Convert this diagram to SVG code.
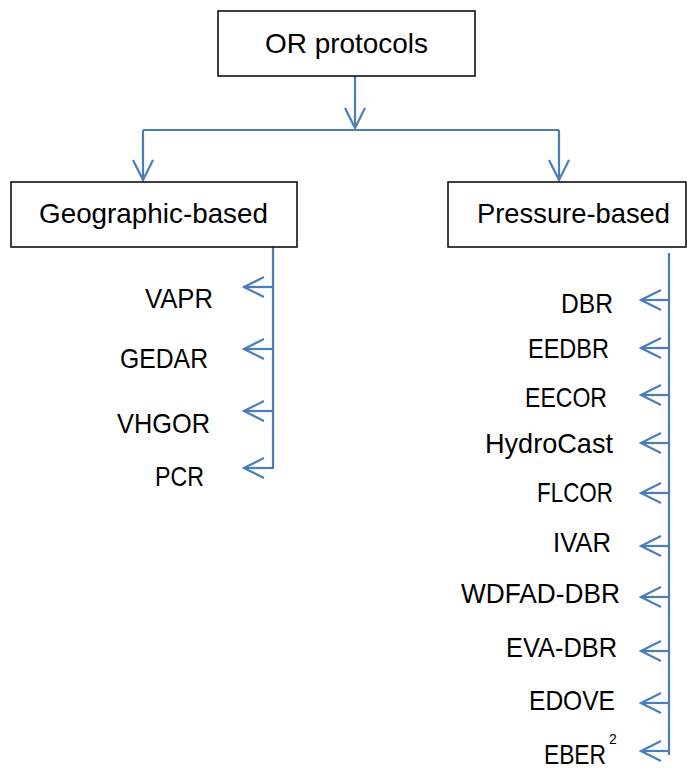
<svg xmlns="http://www.w3.org/2000/svg" width="687" height="770" viewBox="0 0 687 770">
  <style>
    .box { fill: #ffffff; stroke: #000000; stroke-width: 1.5; }
    .label { font-family: "Liberation Sans", Arial, sans-serif; font-size: 28px; fill: #000000; }
    .sup { font-family: "Liberation Sans", Arial, sans-serif; font-size: 14px; fill: #000000; }
    .link { fill: none; stroke: #4A7EBB; stroke-width: 2.2; }
  </style>
  <defs>
    <marker id="open-arrow" viewBox="-22 -12 24 24" markerWidth="24" markerHeight="24" refX="0" refY="0" orient="auto" markerUnits="userSpaceOnUse">
      <path d="M-20,-10 L0,0 L-20,10" fill="none" stroke="#4A7EBB" stroke-width="2.2"/>
    </marker>
  </defs>
  <rect width="687" height="770" fill="#ffffff"/>

  <!-- connectors -->
  <g id="connectors" class="link">
    <path d="M355,76 V128" marker-end="url(#open-arrow)"/>
    <path d="M143,130 H559"/>
    <path d="M143,130 V180" marker-end="url(#open-arrow)"/>
    <path d="M559,130 V180" marker-end="url(#open-arrow)"/>
    <!-- geographic branch -->
    <path d="M273,247 V469"/>
    <path d="M273,287 H244" marker-end="url(#open-arrow)"/>
    <path d="M273,349 H244" marker-end="url(#open-arrow)"/>
    <path d="M273,411 H244" marker-end="url(#open-arrow)"/>
    <path d="M273,468 H244" marker-end="url(#open-arrow)"/>
    <!-- pressure branch -->
    <path d="M669,253 V755"/>
    <path d="M669,300 H641" marker-end="url(#open-arrow)"/>
    <path d="M669,348 H641" marker-end="url(#open-arrow)"/>
    <path d="M669,395 H641" marker-end="url(#open-arrow)"/>
    <path d="M669,443 H641" marker-end="url(#open-arrow)"/>
    <path d="M669,493 H641" marker-end="url(#open-arrow)"/>
    <path d="M669,546 H641" marker-end="url(#open-arrow)"/>
    <path d="M669,597 H641" marker-end="url(#open-arrow)"/>
    <path d="M669,651 H641" marker-end="url(#open-arrow)"/>
    <path d="M669,703 H641" marker-end="url(#open-arrow)"/>
    <path d="M669,751 H641" marker-end="url(#open-arrow)"/>
  </g>

  <g id="or-protocols">
    <rect class="box" x="218" y="11" width="257" height="65"/>
    <text class="label" x="265" y="53" textLength="163" lengthAdjust="spacingAndGlyphs">OR protocols</text>
  </g>
  <g id="geographic-based">
    <rect class="box" x="11" y="182" width="286" height="65"/>
    <text class="label" x="39" y="223" textLength="229" lengthAdjust="spacingAndGlyphs">Geographic-based</text>
  </g>
  <g id="pressure-based">
    <rect class="box" x="448" y="182" width="238" height="65"/>
    <text class="label" x="477" y="223" textLength="193" lengthAdjust="spacingAndGlyphs">Pressure-based</text>
  </g>

  <!-- geographic-based protocols -->
  <g id="vapr"><text class="label" x="145" y="308" textLength="68" lengthAdjust="spacingAndGlyphs">VAPR</text></g>
  <g id="gedar"><text class="label" x="120" y="368" textLength="88" lengthAdjust="spacingAndGlyphs">GEDAR</text></g>
  <g id="vhgor"><text class="label" x="117" y="433" textLength="93" lengthAdjust="spacingAndGlyphs">VHGOR</text></g>
  <g id="pcr"><text class="label" x="155" y="486" textLength="49" lengthAdjust="spacingAndGlyphs">PCR</text></g>

  <!-- pressure-based protocols -->
  <g id="dbr"><text class="label" x="561" y="313" textLength="52" lengthAdjust="spacingAndGlyphs">DBR</text></g>
  <g id="eedbr"><text class="label" x="528" y="358" textLength="81" lengthAdjust="spacingAndGlyphs">EEDBR</text></g>
  <g id="eecor"><text class="label" x="525" y="407" textLength="82" lengthAdjust="spacingAndGlyphs">EECOR</text></g>
  <g id="hydrocast"><text class="label" x="485" y="453" textLength="128" lengthAdjust="spacingAndGlyphs">HydroCast</text></g>
  <g id="flcor"><text class="label" x="537" y="502" textLength="76" lengthAdjust="spacingAndGlyphs">FLCOR</text></g>
  <g id="ivar"><text class="label" x="553" y="552" textLength="58" lengthAdjust="spacingAndGlyphs">IVAR</text></g>
  <g id="wdfad-dbr"><text class="label" x="461" y="603" textLength="159" lengthAdjust="spacingAndGlyphs">WDFAD-DBR</text></g>
  <g id="eva-dbr"><text class="label" x="506" y="657" textLength="111" lengthAdjust="spacingAndGlyphs">EVA-DBR</text></g>
  <g id="edove"><text class="label" x="529" y="710" textLength="86" lengthAdjust="spacingAndGlyphs">EDOVE</text></g>
  <g id="eber">
    <text class="label" x="544" y="764" textLength="62" lengthAdjust="spacingAndGlyphs">EBER</text>
    <text class="sup" x="609" y="744">2</text>
  </g>
</svg>
